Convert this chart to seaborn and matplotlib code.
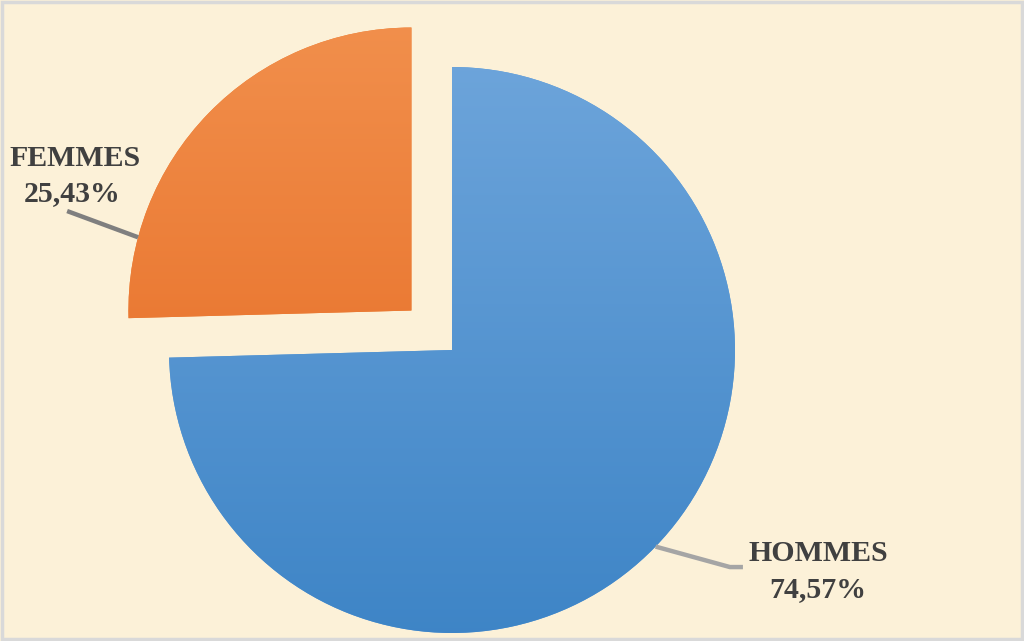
import numpy as np
import matplotlib
matplotlib.use("Agg")
import matplotlib.pyplot as plt
import seaborn as sns
from matplotlib.colors import LinearSegmentedColormap

# ---- data ----
labels = ["FEMMES", "HOMMES"]
values = [25.43, 74.57]
pct_text = ["25,43%", "74,57%"]

# ---- style ----
sns.set_theme(style="white")
plt.rcParams['font.family'] = ['Liberation Serif', 'DejaVu Serif']

bg = "#fcf1d8"
W, H = 1024, 641
fig = plt.figure(figsize=(W / 100, H / 100), dpi=100, facecolor=bg)
ax = fig.add_axes([0, 0, 1, 1])
ax.set_facecolor(bg)

# pie placement: center (452,350) px, radius 283 px
scale = 283.0
cx, cy = 452.0, 350.0
xlim = (-cx / scale, (W - cx) / scale)
ylim = (-(H - cy) / scale, cy / scale)

explode = [0.2, 0.0]
base_cols = ["#ec7d30", "#5a9bd8"]
wedges, _ = ax.pie(values, explode=explode, startangle=90, counterclock=True,
                   colors=base_cols, radius=1.0,
                   wedgeprops=dict(linewidth=0, edgecolor="none"))

# gradient fills
grads = [
    LinearSegmentedColormap.from_list("o", ["#e3631a", "#f2914e"]),
    LinearSegmentedColormap.from_list("b", ["#3d84c6", "#72a8dd"]),
]
for w, cm in zip(wedges, grads):
    g = np.linspace(0, 1, 256).reshape(-1, 1)
    im = ax.imshow(g, cmap=cm, origin="lower", aspect="auto",
                   extent=(-1.5, 1.5, -1.05, 1.25), zorder=w.get_zorder() + 0.1)
    im.set_clip_path(w)

ax.set_xlim(*xlim)
ax.set_ylim(*ylim)
ax.set_aspect("auto")
ax.axis("off")

# leader lines
tot = sum(values)
ang_f = 90 + 360 * values[0] / tot / 2
off = 0.2 * np.array([np.cos(np.radians(ang_f)), np.sin(np.radians(ang_f))])
pf = off + np.array([np.cos(np.radians(165)), np.sin(np.radians(165))])
ax.plot([pf[0], -1.360], [pf[1], 0.491], color="#7f7f7f", lw=3.2,
        solid_capstyle="butt", zorder=5)
ph = np.array([np.cos(np.radians(-44)), np.sin(np.radians(-44))])
ax.plot([ph[0], 0.982, 1.028], [ph[1], -0.767, -0.767], color="#a5a5a5",
        lw=3.2, solid_capstyle="butt", solid_joinstyle="miter", zorder=5)

# labels
tc = "#404040"
fs = 21.5
ax.text(-1.332, 0.675, labels[0], ha="center", va="center", fontsize=fs,
        fontweight="bold", color=tc)
ax.text(-1.342, 0.553, pct_text[0], ha="center", va="center", fontsize=fs,
        fontweight="bold", color=tc)
ax.text(1.293, -0.718, labels[1], ha="center", va="center", fontsize=fs,
        fontweight="bold", color=tc)
ax.text(1.293, -0.848, pct_text[1], ha="center", va="center", fontsize=fs,
        fontweight="bold", color=tc)

# border
fig.patches.append(plt.Rectangle((0.0015, 0.0025), 0.997, 0.995,
                                 transform=fig.transFigure, fill=False,
                                 edgecolor="#d9d9d9", lw=2.5))

fig.savefig("out.png", dpi=100, facecolor=bg)
